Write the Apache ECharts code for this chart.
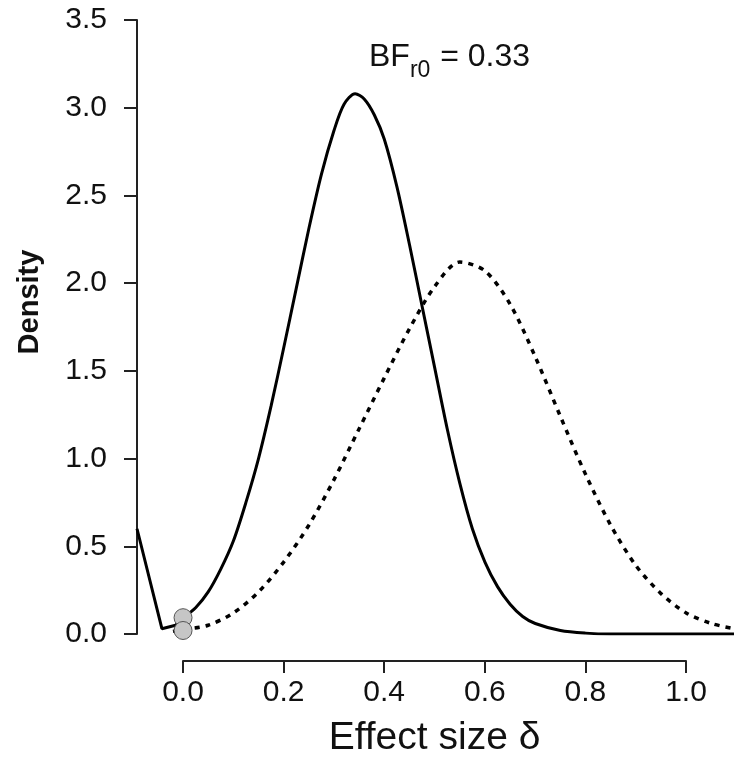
<!DOCTYPE html>
<html>
<head>
<meta charset="utf-8">
<script src="https://cdn.jsdelivr.net/npm/echarts@6/dist/echarts.min.js"></script>
<style>
html,body{margin:0;padding:0;background:#fff;}
#chart{width:734px;height:759px;}
</style>
</head>
<body>
<div id="chart"></div>
<script>
// Posterior (solid) density: left artefact segment and main curve
var postLeftX = [-0.0915, -0.042, -0.015, 0.0];
var postLeftY = [0.60, 0.03, 0.05, 0.093];
var postX = [0.0, 0.025, 0.05, 0.075, 0.1, 0.125, 0.15, 0.175, 0.2, 0.225, 0.25, 0.275, 0.3, 0.32, 0.342, 0.36, 0.38, 0.4, 0.425, 0.45, 0.475, 0.5, 0.525, 0.55, 0.575, 0.6, 0.625, 0.65, 0.675, 0.7, 0.75, 0.8, 0.85, 1.095];
var postY = [0.093, 0.15, 0.24, 0.37, 0.53, 0.75, 1.00, 1.30, 1.63, 1.97, 2.31, 2.62, 2.87, 3.02, 3.08, 3.05, 2.96, 2.82, 2.55, 2.22, 1.87, 1.52, 1.17, 0.86, 0.60, 0.41, 0.27, 0.17, 0.10, 0.06, 0.02, 0.005, 0.0, 0.0];
// Prior (dotted) density
var priorX = [-0.02, 0.0, 0.05, 0.1, 0.15, 0.2, 0.25, 0.3, 0.35, 0.4, 0.45, 0.5, 0.55, 0.6, 0.65, 0.7, 0.75, 0.8, 0.85, 0.9, 0.95, 1.0, 1.05, 1.095];
var priorY = [0.015, 0.025, 0.05, 0.12, 0.24, 0.41, 0.62, 0.88, 1.17, 1.46, 1.74, 1.98, 2.12, 2.07, 1.88, 1.58, 1.24, 0.91, 0.62, 0.39, 0.23, 0.12, 0.06, 0.03];
// Density values at delta = 0 (posterior, prior)
var pointX = [0.0, 0.0];
var pointY = [0.093, 0.02];
// Axis ticks
var yTicks = [0, 0.5, 1.0, 1.5, 2.0, 2.5, 3.0, 3.5];
var xTicks = [0, 0.2, 0.4, 0.6, 0.8, 1.0];
var bfLabel = 'BF';
var bfSub = 'r0';
var bfValue = ' = 0.33';

function zip(a, b) { return a.map(function (v, i) { return [v, b[i]]; }); }

var FONT = 'Liberation Sans, Arial, Helvetica, sans-serif';
var AXC = '#222';
var TXC = '#111';
var chart = echarts.init(document.getElementById('chart'), null, {renderer: 'canvas'});
chart.setOption({
  animation: false,
  backgroundColor: '#fff',
  textStyle: {fontFamily: FONT},
  title: {
    text: '{b|' + bfLabel + '}{s|' + bfSub + '}{b|' + bfValue + '}',
    left: 364, top: 34,
    textStyle: {
      fontWeight: 'normal',
      rich: {
        b: {fontSize: 32, fontFamily: FONT, fontWeight: 'normal', color: TXC, verticalAlign: 'bottom', lineHeight: 34},
        s: {fontSize: 23, fontFamily: FONT, fontWeight: 'normal', color: TXC, verticalAlign: 'bottom', lineHeight: 34, padding: [0, 1, -9, 0]}
      }
    }
  },
  grid: [
    {left: 137, right: 0, top: 20, bottom: 125, containLabel: false},
    {left: 183, right: 48, top: 600, bottom: 97, containLabel: false}
  ],
  xAxis: [
    {type: 'value', gridIndex: 0, min: -0.0915, max: 1.095, show: false},
    {type: 'value', gridIndex: 1, min: 0, max: 1, interval: 0.2,
     axisLine: {show: true, onZero: false, lineStyle: {color: AXC, width: 2}},
     axisTick: {show: true, length: 12, lineStyle: {color: AXC, width: 2}},
     splitLine: {show: false},
     axisLabel: {fontSize: 30, color: TXC, margin: 17, fontFamily: FONT,
                 formatter: function (v) { return v.toFixed(1); }},
     name: 'Effect size δ', nameLocation: 'middle', nameGap: 58,
     nameTextStyle: {fontSize: 39, color: TXC, fontFamily: FONT}}
  ],
  yAxis: [
    {type: 'value', gridIndex: 0, min: 0, max: 3.5, interval: 0.5,
     axisLine: {show: true, onZero: false, lineStyle: {color: AXC, width: 2}},
     axisTick: {show: true, length: 13, lineStyle: {color: AXC, width: 2}},
     splitLine: {show: false},
     axisLabel: {fontSize: 30, color: TXC, margin: 30, fontFamily: FONT,
                 formatter: function (v) { return v.toFixed(1); }}},
    {type: 'value', gridIndex: 1, show: false, min: 0, max: 1}
  ],
  graphic: [{
    type: 'text', x: 30, y: 302, rotation: Math.PI / 2,
    style: {text: 'Density', font: 'bold 29px ' + FONT, fill: TXC, align: 'center', verticalAlign: 'middle'}
  }],
  series: [
    {type: 'line', xAxisIndex: 0, yAxisIndex: 0, data: zip(priorX, priorY), showSymbol: false, smooth: 0.3,
     lineStyle: {color: '#000', width: 3.5, type: [5, 6]}, z: 2},
    {type: 'line', xAxisIndex: 0, yAxisIndex: 0, data: zip(postLeftX, postLeftY), showSymbol: false,
     lineStyle: {color: '#000', width: 3}, z: 3},
    {type: 'line', xAxisIndex: 0, yAxisIndex: 0, data: zip(postX, postY), showSymbol: false, smooth: 0.3,
     lineStyle: {color: '#000', width: 3}, z: 3},
    {type: 'scatter', xAxisIndex: 0, yAxisIndex: 0, data: zip(pointX, pointY), symbolSize: 18,
     itemStyle: {color: '#c6c6c6', borderColor: '#555', borderWidth: 1, opacity: 1}, z: 5}
  ]
});
</script>
</body>
</html>
